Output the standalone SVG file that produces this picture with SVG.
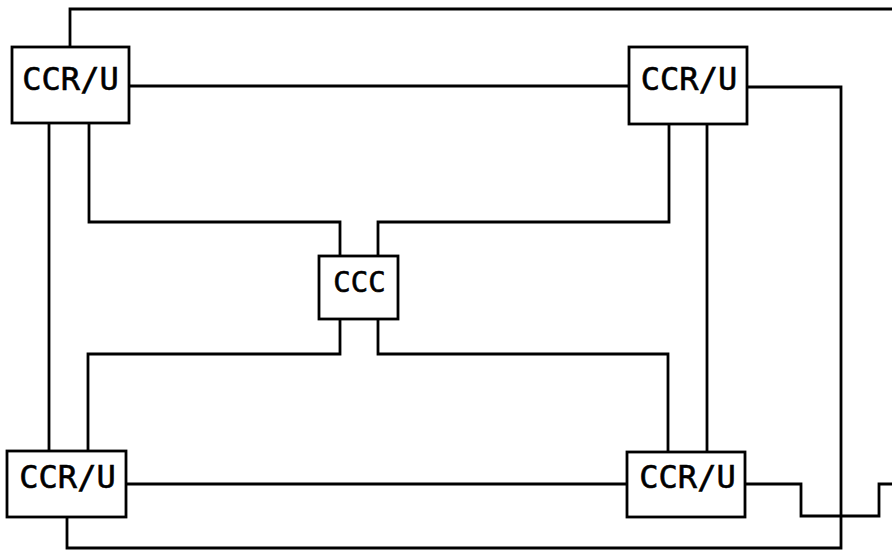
<svg xmlns="http://www.w3.org/2000/svg" width="892" height="550" viewBox="0 0 892 550">
<style>
.box{fill:#fff;stroke:#000;stroke-width:2.8}
.w{fill:none;stroke:#000;stroke-width:2.8;stroke-linejoin:miter}
.t{font-family:"DejaVu Sans Mono","Liberation Mono",monospace;font-size:32px;fill:#000;stroke:#000;stroke-width:0.6;text-anchor:middle}
.s{font-size:29px}
</style>
<rect width="892" height="550" fill="#fff"/>
<g id="connectors">
<polyline class="w" points="70,47 70,9 892,9"/>
<polyline class="w" points="129,86 629,86"/>
<polyline class="w" points="747,87 841,87 841,548 67,548 67,517"/>
<polyline class="w" points="126,484 627,484"/>
<polyline class="w" points="745,484 801,484 801,516 879,516 879,484 892,484"/>
<polyline class="w" points="49,123 49,451"/>
<polyline class="w" points="89,123 89,222 340,222 340,256"/>
<polyline class="w" points="88,451 88,354 340,354 340,319"/>
<polyline class="w" points="669,124 669,222 378,222 378,256"/>
<polyline class="w" points="668,452 668,354 378,354 378,319"/>
<polyline class="w" points="707,124 707,452"/>
</g>
<g id="ccr-top-left">
<rect class="box" x="12" y="47" width="117" height="76"/>
<text class="t" x="70.5" y="90">CCR/U</text>
</g>
<g id="ccr-top-right">
<rect class="box" x="629" y="47" width="118" height="77"/>
<text class="t" x="689" y="90">CCR/U</text>
</g>
<g id="ccr-bottom-left">
<rect class="box" x="7" y="451" width="119" height="66"/>
<text class="t" x="67.5" y="488">CCR/U</text>
</g>
<g id="ccr-bottom-right">
<rect class="box" x="627" y="452" width="118" height="65"/>
<text class="t" x="687.5" y="488">CCR/U</text>
</g>
<g id="ccc">
<rect class="box" x="319" y="256" width="79" height="63"/>
<text class="t s" x="359.5" y="292">CCC</text>
</g>
</svg>
